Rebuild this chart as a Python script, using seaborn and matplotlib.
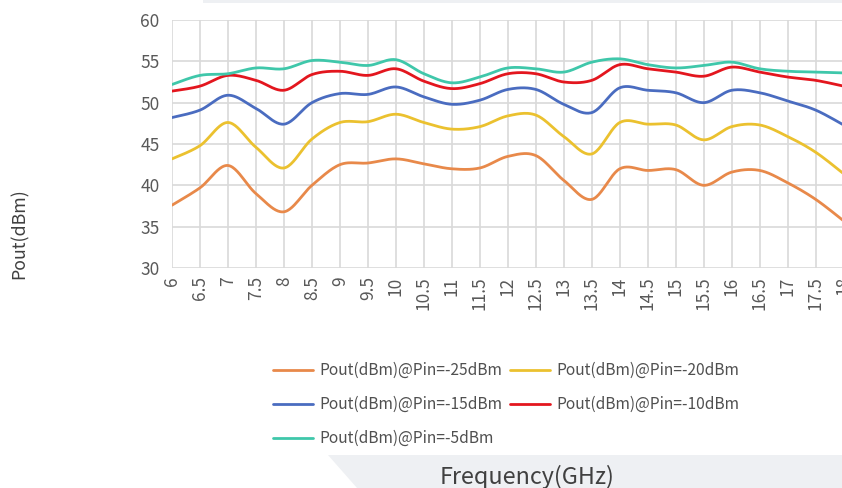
import numpy as np
import pandas as pd
import matplotlib
matplotlib.use("Agg")
import matplotlib.pyplot as plt
import seaborn as sns
from matplotlib.patches import Polygon, Rectangle

# frequency points (GHz)
freq = [6, 6.5, 7, 7.5, 8, 8.5, 9, 9.5, 10, 10.5, 11, 11.5, 12,
        12.5, 13, 13.5, 14, 14.5, 15, 15.5, 16, 16.5, 17, 17.5, 18]
freq_labels = ["6", "6.5", "7", "7.5", "8", "8.5", "9", "9.5", "10", "10.5", "11", "11.5", "12",
               "12.5", "13", "13.5", "14", "14.5", "15", "15.5", "16", "16.5", "17", "17.5", "18"]

# output power (dBm) for each input power level
pout_pin_25 = [37.6, 39.7, 42.4, 39.0, 36.8, 40.0, 42.5, 42.7, 43.2, 42.6, 42.0, 42.1, 43.5,
               43.6, 40.6, 38.3, 42.0, 41.8, 41.9, 40.0, 41.6, 41.8, 40.3, 38.3, 35.7]
pout_pin_20 = [43.2, 44.8, 47.6, 44.6, 42.1, 45.6, 47.6, 47.7, 48.6, 47.6, 46.8, 47.1, 48.4,
               48.5, 45.9, 43.8, 47.6, 47.4, 47.3, 45.5, 47.1, 47.3, 45.9, 44.0, 41.4]
pout_pin_15 = [48.2, 49.1, 50.9, 49.3, 47.4, 50.0, 51.1, 51.0, 51.9, 50.7, 49.8, 50.3, 51.6,
               51.6, 49.8, 48.8, 51.8, 51.5, 51.2, 50.0, 51.5, 51.2, 50.2, 49.1, 47.3]
pout_pin_10 = [51.4, 52.0, 53.3, 52.7, 51.5, 53.4, 53.8, 53.3, 54.1, 52.6, 51.7, 52.3, 53.5,
               53.5, 52.5, 52.7, 54.6, 54.1, 53.7, 53.2, 54.3, 53.7, 53.1, 52.7, 52.0]
pout_pin_5 = [52.2, 53.3, 53.5, 54.2, 54.1, 55.1, 54.9, 54.5, 55.2, 53.5, 52.4, 53.1, 54.2,
              54.1, 53.7, 54.9, 55.3, 54.6, 54.2, 54.5, 54.9, 54.1, 53.8, 53.7, 53.6]

series_names = ["Pout(dBm)@Pin=-25dBm", "Pout(dBm)@Pin=-20dBm", "Pout(dBm)@Pin=-15dBm",
                "Pout(dBm)@Pin=-10dBm", "Pout(dBm)@Pin=-5dBm"]
series_values = [pout_pin_25, pout_pin_20, pout_pin_15, pout_pin_10, pout_pin_5]
colors = ["#E8894A", "#EBC12F", "#4A6CC0", "#E3161E", "#3FC7AA"]


def smooth_curve(x, y, n=24):
    # Bezier smoothing like Excel "smoothed line" (only for drawing)
    x = np.asarray(x, float)
    y = np.asarray(y, float)
    px = np.concatenate([[x[0]], x, [x[-1]]])
    py = np.concatenate([[y[0]], y, [y[-1]]])
    t = np.linspace(0, 1, n, endpoint=False)
    xs, ys = [], []
    for i in range(1, len(px) - 2):
        for p, out in ((px, xs), (py, ys)):
            p0, p1, p2, p3 = p[i - 1], p[i], p[i + 1], p[i + 2]
            c1 = p1 + (p2 - p0) / 6
            c2 = p2 - (p3 - p1) / 6
            out.extend((1 - t) ** 3 * p1 + 3 * (1 - t) ** 2 * t * c1
                       + 3 * (1 - t) * t ** 2 * c2 + t ** 3 * p2)
    xs.append(x[-1])
    ys.append(y[-1])
    return xs, ys


frames = []
for name, vals in zip(series_names, series_values):
    xs, ys = smooth_curve(freq, vals)
    frames.append(pd.DataFrame({"freq": xs, "pout": ys, "series": name}))
df = pd.concat(frames, ignore_index=True)

sns.set_style("white")
plt.rcParams["font.family"] = ["Noto Sans CJK SC", "DejaVu Sans"]

fig = plt.figure(figsize=(8.42, 4.88), dpi=100)
ax = fig.add_axes([172 / 842, 1 - 268 / 488, 1 - 172 / 842 + 0.002, 248 / 488])

sns.lineplot(data=df, x="freq", y="pout", hue="series", hue_order=series_names,
             palette=colors, linewidth=2.0, estimator=None, sort=False, ax=ax)

ax.set_xlim(6, 18)
ax.set_ylim(30, 60)
ax.set_xticks(freq)
ax.set_xticklabels(freq_labels, rotation=90)
ax.set_yticks([30, 35, 40, 45, 50, 55, 60])
ax.tick_params(axis="both", length=0, labelsize=12.5, colors="#595959")
ax.tick_params(axis="x", pad=6)
ax.tick_params(axis="y", pad=9)
ax.grid(True, color="#d9d9d9", linewidth=1.2)
ax.set_axisbelow(True)
for s in ax.spines.values():
    s.set_visible(False)
ax.set_xlabel("")
ax.set_ylabel("")

# legend, two columns filled row by row
handles, labels = ax.get_legend_handles_labels()
ax.get_legend().remove()
order = [0, 2, 4, 1, 3]
fig.legend([handles[i] for i in order], [labels[i] for i in order], ncol=2,
           loc="upper left", bbox_to_anchor=(259 / 842, 1 - 348 / 488), frameon=False,
           fontsize=11.2, handlelength=2.6, handletextpad=0.4, columnspacing=0.45,
           labelspacing=1.1, labelcolor="#505050")

# decorative grey band behind the x title and thin top strip
fig.patches.append(Polygon([[328 / 842, 1 - 455 / 488], [1, 1 - 455 / 488], [1, 0], [357 / 842, 0]],
                           closed=True, transform=fig.transFigure, facecolor="#eef0f3",
                           edgecolor="none", zorder=0))
fig.patches.append(Rectangle((203 / 842, 1 - 3 / 488), 1, 3 / 488, transform=fig.transFigure,
                             facecolor="#eef0f3", edgecolor="none", zorder=0))

fig.text(527 / 842, 1 - 477 / 488, "Frequency(GHz)", ha="center", va="center",
         fontsize=16.8, color="#404040")
fig.text(20 / 842, 1 - 234 / 488, "Pout(dBm)", ha="center", va="center", rotation=90,
         fontsize=12.8, color="#404040")

fig.savefig("out.png", dpi=100)
